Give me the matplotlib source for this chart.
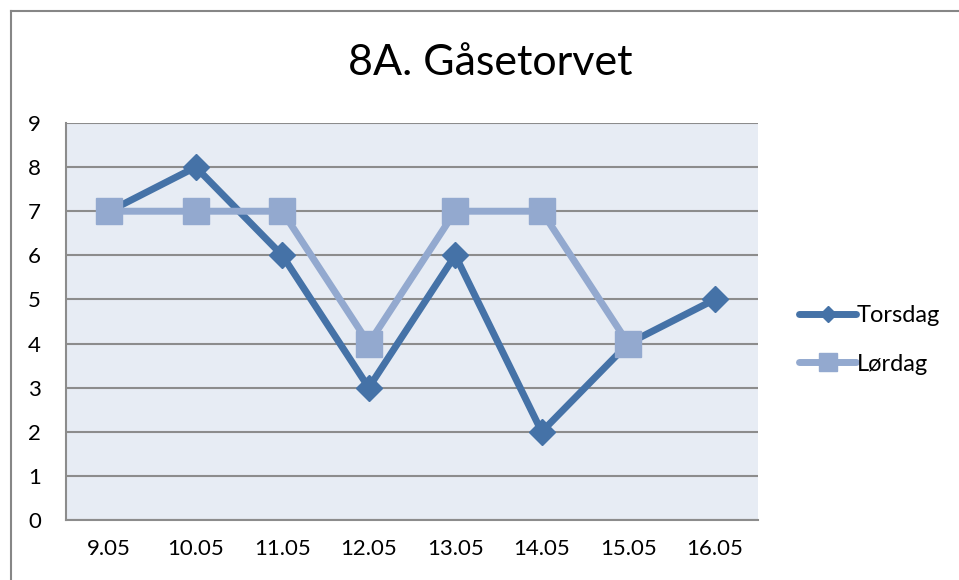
import matplotlib
matplotlib.use("Agg")
import matplotlib.pyplot as plt
from matplotlib.lines import Line2D

# data
dates = ["9.05", "10.05", "11.05", "12.05", "13.05", "14.05", "15.05", "16.05"]
torsdag = [7, 8, 6, 3, 6, 2, 4, 5]
lordag = [7, 7, 7, 4, 7, 7, 4, None]

plt.rcParams['font.family'] = ['Lato', 'DejaVu Sans']

W, H = 959, 580
fig = plt.figure(figsize=(W / 100, H / 100), dpi=100)
ax = fig.add_axes([66 / W, (H - 520) / H, 692 / W, 397 / H])

x = list(range(len(dates)))
lx = [i for i, v in enumerate(lordag) if v is not None]
ly = [v for v in lordag if v is not None]

ax.plot(x, torsdag, color='#4572A7', lw=5, marker='D', markersize=13,
        solid_joinstyle='miter', solid_capstyle='round', label='Torsdag', zorder=3)
ax.plot(lx, ly, color='#93A9CF', lw=5, marker='s', markersize=19,
        solid_capstyle='round', label='Lørdag', zorder=4)

ax.set_facecolor('#E7ECF4')
ax.set_xlim(-0.5, len(dates) - 0.5)
ax.set_ylim(0, 9)
ax.set_yticks(range(10))
ax.set_xticks(x)
ax.set_xticklabels(dates)
ax.grid(axis='y', color='#8C8C8C', lw=1.5)
ax.set_axisbelow(True)
for s in ['top', 'right']:
    ax.spines[s].set_visible(False)
for s in ['left', 'bottom']:
    ax.spines[s].set_color('#8C8C8C')
    ax.spines[s].set_linewidth(1.5)
ax.tick_params(length=0, labelsize=16)
ax.tick_params(axis='x', pad=14)
ax.tick_params(axis='y', pad=18)

fig.text(490 / W, 1 - 63 / H, '8A. Gåsetorvet', ha='center', va='center', fontsize=31)

ax.legend(loc='center left', bbox_to_anchor=(778 / W, 1 - 340 / H),
          bbox_transform=fig.transFigure, frameon=False, fontsize=17,
          handlelength=2.4, handletextpad=0.05, labelspacing=1.15,
          markerscale=0.65)

# outer chart border
fig.add_artist(Line2D([11 / W, 11 / W], [0, 1 - 11 / H], color='#868686', lw=1.5))
fig.add_artist(Line2D([11 / W, 1], [1 - 11 / H, 1 - 11 / H], color='#868686', lw=1.5))

fig.savefig('out.png', dpi=100)
